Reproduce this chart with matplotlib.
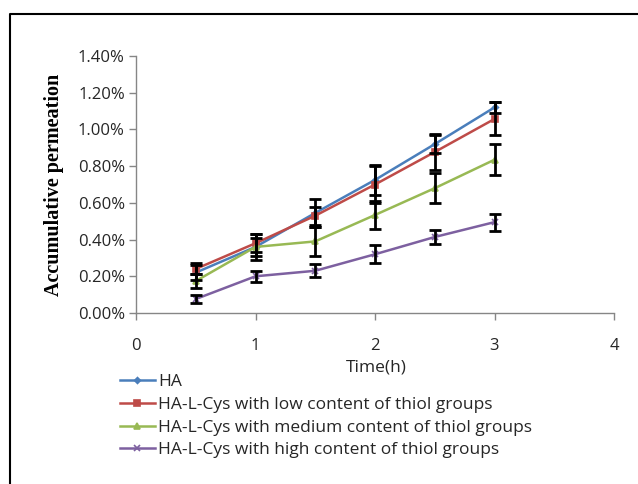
import matplotlib
matplotlib.use("Agg")
import matplotlib.pyplot as plt
from matplotlib.lines import Line2D
from matplotlib.ticker import FuncFormatter

time_h = [0.5, 1.0, 1.5, 2.0, 2.5, 3.0]

series_names = [
    "HA",
    "HA-L-Cys with low content of thiol groups",
    "HA-L-Cys with medium content of thiol groups",
    "HA-L-Cys with high content of thiol groups",
]

ha = [0.22, 0.36, 0.545, 0.725, 0.92, 1.12]
low = [0.24, 0.38, 0.53, 0.70, 0.877, 1.057]
medium = [0.174, 0.36, 0.39, 0.534, 0.68, 0.835]
high = [0.076, 0.20, 0.23, 0.32, 0.414, 0.495]

ha_err = [0.04, 0.07, 0.075, 0.08, 0.05, 0.03]
low_err = [0.03, 0.05, 0.05, 0.10, 0.10, 0.09]
medium_err = [0.04, 0.05, 0.08, 0.076, 0.08, 0.085]
high_err = [0.022, 0.03, 0.035, 0.05, 0.04, 0.046]

colors = ["#4A7EBB", "#BE4B48", "#98B954", "#7D60A0"]
markers = ["D", "s", "^", "x"]
marker_sizes = [3, 4.5, 4.5, 4]

values = [ha, low, medium, high]
errors = [ha_err, low_err, medium_err, high_err]

tick_font = "Open Sans"
text_color = "#262626"

fig = plt.figure(figsize=(6.38, 4.84), dpi=100)
ax = fig.add_axes([136 / 638, 1 - 313 / 484, (614 - 136) / 638, (313 - 56) / 484])

for name, ys, errs, c, m, ms in zip(series_names, values, errors, colors, markers, marker_sizes):
    ax.plot(time_h, ys, color=c, lw=1.8, marker=m, ms=ms, mew=1.2, label=name, zorder=3)
    ax.errorbar(time_h, ys, yerr=errs, fmt="none", ecolor="black", elinewidth=2,
                capsize=4, capthick=2, zorder=4)

ax.set_xlim(0, 4)
ax.set_ylim(0, 1.4)
ax.set_xticks([0, 1, 2, 3, 4])
ax.set_yticks([0, 0.2, 0.4, 0.6, 0.8, 1.0, 1.2, 1.4])
ax.yaxis.set_major_formatter(FuncFormatter(lambda v, p: f"{v:.2f}%"))

for side in ["top", "right"]:
    ax.spines[side].set_visible(False)
for side in ["left", "bottom"]:
    ax.spines[side].set_color("#868686")
    ax.spines[side].set_linewidth(1.0)
ax.tick_params(axis="both", direction="out", length=5, width=1.0, color="#868686",
               labelsize=12, labelcolor=text_color)
ax.tick_params(axis="x", pad=13)
ax.tick_params(axis="y", pad=3)
for lbl in ax.get_xticklabels() + ax.get_yticklabels():
    lbl.set_fontfamily(tick_font)

ax.set_ylabel("Accumulative permeation", fontfamily="Liberation Serif", fontweight="bold",
              fontsize=14.5, color="black", labelpad=10)
fig.text(376 / 638, 1 - 368 / 484, "Time(h)", ha="center", va="center",
         fontfamily=tick_font, fontsize=12.5, color=text_color)

ax.legend(loc="upper left", bbox_to_anchor=(113 / 638, 1 - 367 / 484),
          bbox_transform=fig.transFigure, frameon=False, handlelength=2.0,
          handletextpad=0.2, labelspacing=0.38, borderaxespad=0,
          prop={"family": tick_font, "size": 12.5})
for t in ax.get_legend().get_texts():
    t.set_color(text_color)

# outer chart border (left and top edges visible)
fig.add_artist(Line2D([10 / 638, 10 / 638, 1.0], [0.0, 1 - 14 / 484, 1 - 14 / 484],
                      transform=fig.transFigure, color="black", lw=1.5))

fig.savefig("out.png", dpi=100)
